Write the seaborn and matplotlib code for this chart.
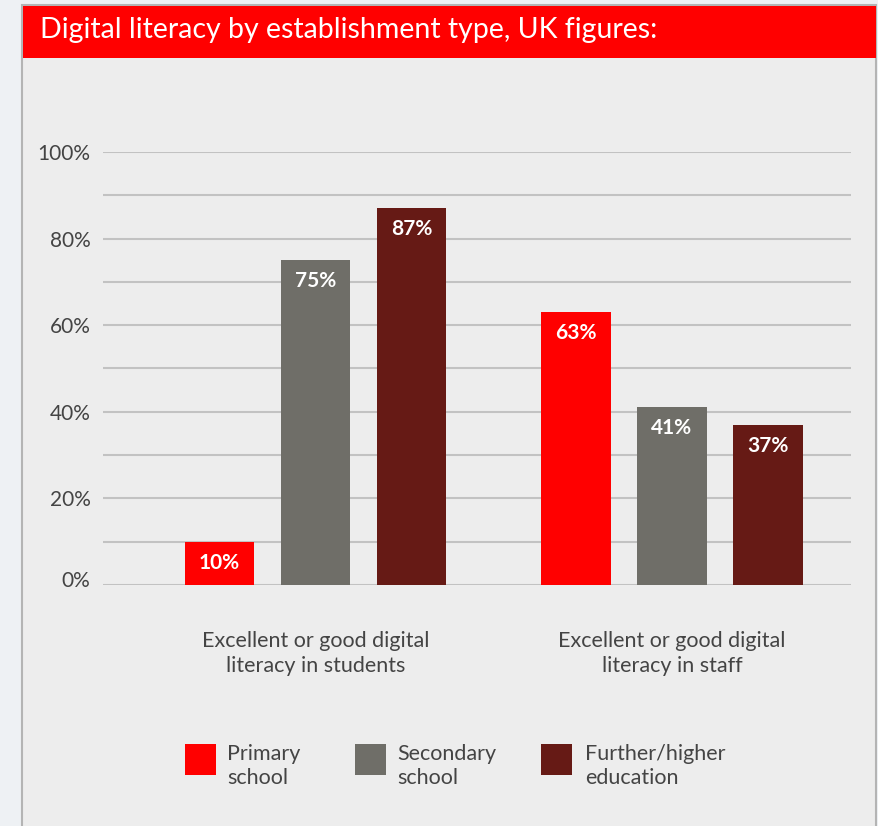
import matplotlib
matplotlib.use("Agg")
import matplotlib.pyplot as plt
import matplotlib.transforms as mtransforms
import seaborn as sns
import pandas as pd
from matplotlib.patches import Rectangle

groups = ["Excellent or good digital\nliteracy in students", "Excellent or good digital\nliteracy in staff"]
types = ["Primary\nschool", "Secondary\nschool", "Further/higher\neducation"]
students = [10, 75, 87]
staff = [63, 41, 37]
yticks = [0, 20, 40, 60, 80, 100]
ytick_labels = ["0%", "20%", "40%", "60%", "80%", "100%"]
colors = ["#ff0000", "#6f6e68", "#661a15"]
title = "Digital literacy by establishment type, UK figures:"

df = pd.DataFrame({
    "group": [groups[0]] * 3 + [groups[1]] * 3,
    "type": types * 2,
    "value": students + staff,
})

sns.set_theme(style="white")
plt.rcParams["font.family"] = ["Lato", "DejaVu Sans"]

W, H = 879, 826
fig = plt.figure(figsize=(W / 100, H / 100), dpi=100)
fig.patch.set_facecolor("#eef1f4")

def px(x0, y0, x1, y1):
    return (x0 / W, 1 - y1 / H), (x1 - x0) / W, (y1 - y0) / H

# panel
xy, w, h = px(22, 5, 876, 830)
fig.patches.append(Rectangle(xy, w, h, transform=fig.transFigure, facecolor="#ededed",
                             edgecolor="#b4b4b4", linewidth=1.5, zorder=-2))
xy, w, h = px(23, 6, 876, 58)
fig.patches.append(Rectangle(xy, w, h, transform=fig.transFigure, facecolor="#ff0000",
                             edgecolor="none", zorder=-1))
fig.text(40 / W, 1 - 30 / H, title, color="white", fontsize=20.5, va="center", ha="left")

ax = fig.add_axes([103 / W, 1 - 585 / H, 748 / W, 433 / H])
ax.set_zorder(5)
ax.set_facecolor("none")
sns.barplot(data=df, x="group", y="value", hue="type", order=groups, hue_order=types,
            palette=colors, width=0.808, gap=0.28, ax=ax, legend=False, saturation=1,
            edgecolor="none", zorder=3)

ax.set_xlim(-0.596, 1.502)
ax.set_ylim(0, 100)
for v in range(0, 101, 10):
    ax.axhline(v, color="#c2c2c2", linewidth=1.5, zorder=1)
ax.set_yticks(yticks)
ax.set_yticklabels(ytick_labels, fontsize=15, color="#444444")
ax.tick_params(axis="y", length=0, pad=9)
ax.tick_params(axis="x", length=0, pad=33)
ax.set_xticks([0, 1])
ax.set_xticklabels(groups, fontsize=15.5, color="#444444", linespacing=1.3)
ax.set_xlabel("")
ax.set_ylabel("")
for s in ax.spines.values():
    s.set_visible(False)

fig.canvas.draw()
for lbl in ax.get_yticklabels():
    if lbl.get_text() == "0%":
        lbl.set_transform(lbl.get_transform() +
                          mtransforms.ScaledTranslation(0, 6 / 100, fig.dpi_scale_trans))

for cont in ax.containers:
    for bar in cont:
        hgt = bar.get_height()
        ax.annotate(f"{hgt:.0f}%", (bar.get_x() + bar.get_width() / 2, hgt),
                    xytext=(0, -21), textcoords="offset pixels", ha="center", va="center",
                    color="white", fontsize=15, fontweight="bold", zorder=5)

# legend
leg_sq = [185, 355, 541]
leg_tx = [227, 397, 585]
for c, t, sx, tx in zip(colors, types, leg_sq, leg_tx):
    xy, w, h = px(sx, 744, sx + 31, 775)
    fig.patches.append(Rectangle(xy, w, h, transform=fig.transFigure, facecolor=c,
                                 edgecolor="none", zorder=0))
    fig.text(tx / W, 1 - 766 / H, t, color="#444444", fontsize=15.5, va="center", ha="left",
             linespacing=1.3)

fig.savefig("out.png", dpi=100, facecolor=fig.get_facecolor())
